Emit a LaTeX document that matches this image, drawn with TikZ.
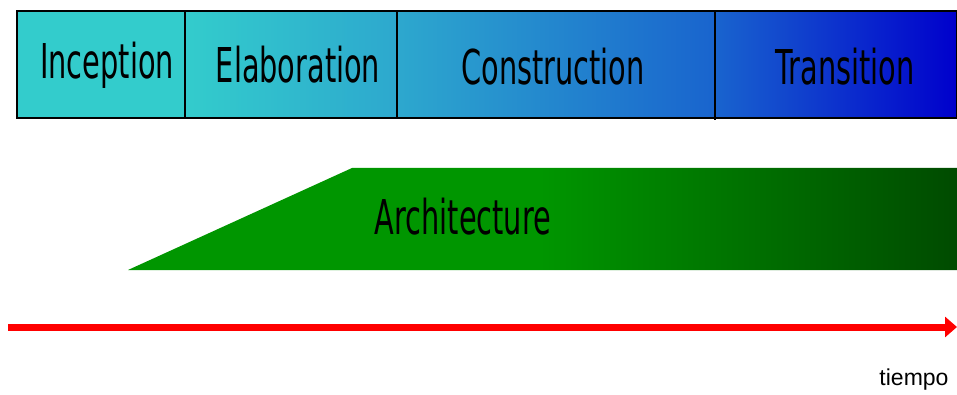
\documentclass[tikz,border=0pt]{standalone}
\usepackage{fontspec}
\setmainfont{DejaVu Sans}[FakeStretch=0.6]
\newfontfamily\arialf{Liberation Sans}
\usetikzlibrary{arrows.meta}
\definecolor{cA}{RGB}{51,204,204}
\definecolor{cB}{RGB}{45,168,206}
\definecolor{cC}{RGB}{25,100,206}
\definecolor{cD}{RGB}{0,0,204}
\definecolor{gA}{RGB}{0,150,0}
\definecolor{gC}{RGB}{0,75,0}
\pgfdeclarehorizontalshading{phasebar}{100bp}{color(0bp)=(cA); color(25bp)=(cA); color(33.94bp)=(cA); color(45.21bp)=(cB); color(62.13bp)=(cC); color(75bp)=(cD); color(100bp)=(cD)}
\pgfdeclarehorizontalshading{archband}{100bp}{color(0bp)=(gA); color(25bp)=(gA); color(49.85bp)=(gA); color(75bp)=(gC); color(100bp)=(gC)}
\begin{document}
\begin{tikzpicture}[x=1pt,y=1pt,
  phase/.style={font=\fontsize{48}{50}\selectfont, text=black, anchor=center},
  divider/.style={draw=black, line width=2pt}]
\useasboundingbox (0,0) rectangle (957,394);
% phase bar
\shade[shading=phasebar] (17,276) rectangle (957,383);
\draw[line width=2pt] (17,276) rectangle (957,383);
\coordinate (d1t) at (185,383); \coordinate (d1b) at (185,276);
\coordinate (d2t) at (397,383); \coordinate (d2b) at (397,276);
\coordinate (d3t) at (715,383); \coordinate (d3b) at (715,274);
\draw[divider] (d1t) -- (d1b);
\draw[divider] (d2t) -- (d2b);
\draw[divider] (d3t) -- (d3b);
\node[phase] (inc) at (107,329) {Inception};
\node[phase] (ela) at (298,329) {Elaboration};
\node[phase] (con) at (553,327) {Construction};
\node[phase] (tra) at (845,327) {Transition};
% architecture band
\shade[shading=archband] (128,124) -- (352,226) -- (957,226) -- (957,124) -- cycle;
\node[phase] (arch) at (463,177) {Architecture};
% time arrow
\coordinate (ts) at (8,67);
\coordinate (te) at (957,67);
\draw[red, line width=7pt, -{Triangle[length=12pt,width=20pt]}] (ts) -- (te);
\node[font=\arialf\fontsize{23}{24}\selectfont, anchor=base] (tiempo) at (914,9) {tiempo};
\end{tikzpicture}
\end{document}
